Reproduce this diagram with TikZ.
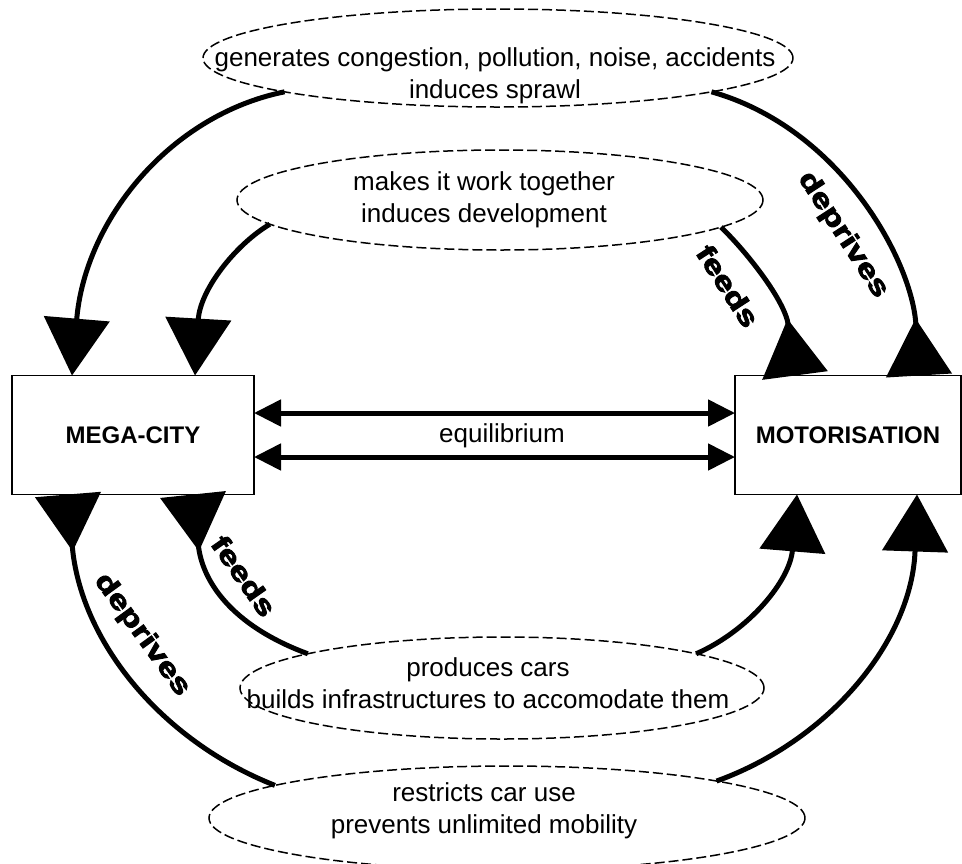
\documentclass[tikz,border=0pt]{standalone}
\usepackage{fontspec}
\setmainfont{Liberation Sans}
\newfontfamily\heavyfont[FakeBold=3]{Liberation Sans}
\usepackage{graphicx}
\usetikzlibrary{arrows.meta,shapes.geometric}

\begin{document}
\begin{tikzpicture}[x=1pt,y=-1pt,
  ovalnode/.style={ellipse,draw,dash pattern=on 10pt off 4pt,line width=1.5pt,inner sep=0pt,outer sep=0pt},
  txt/.style={align=center,inner sep=0pt,font=\fontsize{26}{32}\selectfont},
  boxnode/.style={draw,line width=1.6pt,inner sep=0pt,outer sep=0pt,font=\fontsize{24}{28}\selectfont\bfseries},
  lbl/.style={inner sep=0pt,font=\fontsize{27}{30}\selectfont\heavyfont\bfseries},
  link/.style={line width=5pt},
  tiphead/.style={-{Triangle[length=57pt,width=65pt]}},
  backtip/.style={-{Triangle[length=57pt,width=65pt,reversed]}},
  equi/.style={line width=5pt,{Triangle[length=27pt,width=26pt]}-{Triangle[length=27pt,width=26pt]}}]
  \useasboundingbox (0,0) rectangle (962,863);
  \node[ovalnode,minimum width=590pt,minimum height=98pt] (gen) at (498,58) {};
  \node[txt] (gentext) at (495,76) {generates congestion, pollution, noise, accidents\\induces sprawl};
  \node[ovalnode,minimum width=526pt,minimum height=100pt] (work) at (500,200) {};
  \node[txt] (worktext) at (484,200) {makes it work together\\induces development};
  \node[ovalnode,minimum width=524pt,minimum height=102pt] (cars) at (502,688) {};
  \node[txt] (carstext) at (488,683) {produces cars\\builds infrastructures to accomodate them};
  \node[ovalnode,minimum width=596pt,minimum height=104pt] (use) at (507,818) {};
  \node[txt] (usetext) at (484,811) {restricts car use\\prevents unlimited mobility};
  \node[boxnode,minimum width=242pt,minimum height=119pt] (city) at (133,435) {MEGA-CITY};
  \node[boxnode,minimum width=226pt,minimum height=119pt] (motor) at (848,435) {MOTORISATION};
  \node[txt] (eq) at (502,436) {equilibrium};
  \draw[equi] ([yshift=22pt]city.east) -- ([yshift=22pt]motor.west);
  \draw[equi] ([yshift=-22pt]city.east) -- ([yshift=-22pt]motor.west);
  \draw[link,tiphead] (gen.189) .. controls (170,115) and (85,220) .. ([xshift=60pt]city.north west);
  \draw[link,tiphead] (work.186) .. controls (235,245) and (200,290) .. ([xshift=183pt]city.north west);
  \draw[link,backtip] (gen.351) .. controls (840,128) and (912,260) .. ([xshift=184pt]motor.north west);
  \draw[link,backtip] (work.353) .. controls (745,250) and (785,300) .. ([xshift=60pt]motor.north west);
  \draw[link,backtip] (cars.170) .. controls (230,625) and (202,580) .. ([xshift=181pt]city.south west);
  \draw[link,backtip] (use.172) .. controls (160,740) and (80,640) .. ([xshift=56pt]city.south west);
  \draw[link,tiphead] (cars.10) .. controls (750,630) and (790,580) .. ([xshift=62pt]motor.south west);
  \draw[link,tiphead] (use.10) .. controls (830,740) and (912,640) .. ([xshift=182pt]motor.south west);
  \node[lbl,rotate=-57] (deprivesa) at (843,235) {\scalebox{1.3}[1]{deprives}};
  \node[lbl,rotate=-57] (feedsa) at (728,286) {\scalebox{1.3}[1]{feeds}};
  \node[lbl,rotate=-55] (feedsb) at (244,576) {\scalebox{1.3}[1]{feeds}};
  \node[lbl,rotate=-54] (deprivesb) at (142,635) {\scalebox{1.3}[1]{deprives}};
\end{tikzpicture}
\end{document}
